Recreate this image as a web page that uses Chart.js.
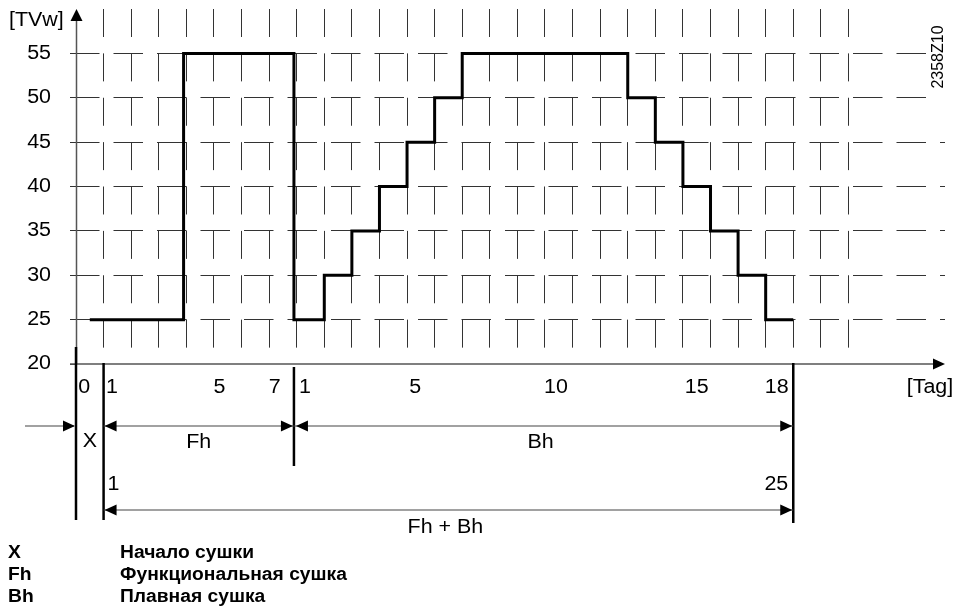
<!DOCTYPE html>
<html>
<head>
<meta charset="utf-8">
<title>Aufheizprogramm</title>
<style>
  html, body { margin: 0; padding: 0; background: #fff; }
  canvas { display: block; }
</style>
</head>
<body>
<canvas id="dryingChart" width="959" height="612"></canvas>
<script src="https://cdn.jsdelivr.net/npm/chart.js@4/dist/chart.umd.min.js"></script>
<script>
// Heating profile: day (counted from start of X) where each temperature level begins
const stepDays  = [0.5, 3.9, 7.9, 9, 10, 11, 12, 13, 14, 20, 21, 22, 23, 24, 25, 26];
const stepTemps = [25, 55, 25, 30, 35, 40, 45, 50, 55, 50, 45, 40, 35, 30, 25, 25];

// Temperature axis
const yTicks = [20, 25, 30, 35, 40, 45, 50, 55];

// Day labels under the time axis (Fh days 1..7, then Bh days 1..18)
const dayLabels   = ['0', '1', '5', '7', '1', '5', '10', '15', '18'];
const dayLabelPos = [0.3, 1.3, 5.2, 7.2, 8.3, 12.3, 17.4, 22.5, 25.4];

// Phase boundaries: start X, start Fh, start Bh, end
const phaseEdges = [0, 1, 7.9, 26];

// Legend
const legendCodes = ['X', 'Fh', 'Bh'];
const legendNames = ['Начало сушки', 'Функциональная сушка', 'Плавная сушка'];

const FONT = '"Liberation Sans", Arial, sans-serif';
const STRETCH = 1.1;

function drawText(c, str, x, y, align, font) {
  c.save();
  c.translate(x, y);
  c.scale(STRETCH, 1);
  c.font = font;
  c.fillStyle = '#000';
  c.textAlign = align;
  c.textBaseline = 'middle';
  c.fillText(str, 0, 0);
  c.restore();
}

function line(c, x1, y1, x2, y2, width, color) {
  c.save();
  c.lineWidth = width;
  c.strokeStyle = color;
  c.beginPath();
  c.moveTo(x1, y1);
  c.lineTo(x2, y2);
  c.stroke();
  c.restore();
}

// filled arrow head, dir 1 = pointing right, -1 = left, 'up' = pointing up
function arrowHead(c, x, y, dir) {
  c.save();
  c.fillStyle = '#000';
  c.beginPath();
  if (dir === 'up') {
    c.moveTo(x, y);
    c.lineTo(x - 6, y + 12);
    c.lineTo(x + 6, y + 12);
  } else {
    c.moveTo(x, y);
    c.lineTo(x - dir * 12, y - 5.5);
    c.lineTo(x - dir * 12, y + 5.5);
  }
  c.closePath();
  c.fill();
  c.restore();
}

// axes, dimension lines and all the texts around the plot
const decorations = {
  id: 'decorations',
  afterDraw(chart) {
    const c = chart.ctx;
    const xs = chart.scales.x;
    const ys = chart.scales.y;
    const area = chart.chartArea;
    const px = v => xs.getPixelForValue(v);
    const py = v => ys.getPixelForValue(v);
    const regular = '19.5px ' + FONT;
    const bold = 'bold 17.5px ' + FONT;

    // axes
    const x0 = px(0);
    line(c, x0 + 0.5, area.bottom, x0 + 0.5, area.top + 10, 1.5, '#555');
    arrowHead(c, x0 + 0.5, area.top, 'up');
    line(c, x0 - 6, py(20), area.right - 10, py(20), 1.5, '#555');
    arrowHead(c, area.right, py(20), 1);

    // phase boundary lines
    const spans = [[347, 520], [363, 520], [367, 466], [363, 523]];
    phaseEdges.forEach((d, i) => {
      line(c, px(d), spans[i][0], px(d), spans[i][1], 2.5, '#000');
    });

    // dimension arrows
    const e = phaseEdges.map(px);
    const r1 = 426, r2 = 510;
    line(c, 25, r1, e[0] - 2, r1, 1.2, '#444');
    arrowHead(c, e[0] - 1, r1, 1);
    line(c, e[1], r1, e[2], r1, 1.2, '#444');
    arrowHead(c, e[1] + 1, r1, -1);
    arrowHead(c, e[2] - 1, r1, 1);
    line(c, e[2], r1, e[3], r1, 1.2, '#444');
    arrowHead(c, e[2] + 2, r1, -1);
    arrowHead(c, e[3] - 1, r1, 1);
    line(c, e[1], r2, e[3], r2, 1.2, '#444');
    arrowHead(c, e[1] + 1, r2, -1);
    arrowHead(c, e[3] - 1, r2, 1);

    // axis texts
    drawText(c, '[TVw]', 9, 21, 'left', regular);
    yTicks.forEach(v => drawText(c, String(v), 51, py(v), 'right', regular));
    dayLabels.forEach((s, i) => drawText(c, s, px(dayLabelPos[i]), 388, 'center', regular));
    drawText(c, '[Tag]', 930, 388, 'center', regular);

    // phase names
    drawText(c, 'X', (e[0] + e[1]) / 2, 442, 'center', regular);
    drawText(c, 'Fh', (e[1] + e[2]) / 2, 443, 'center', regular);
    drawText(c, 'Bh', (e[2] + e[3]) / 2 - 3, 443, 'center', regular);
    drawText(c, '1', e[1] + 4, 485, 'left', regular);
    drawText(c, '25', e[3] - 5, 485, 'right', regular);
    drawText(c, 'Fh + Bh', (e[1] + e[3]) / 2 - 3, 528, 'center', regular);

    // drawing number, rotated
    c.save();
    c.fillStyle = '#fff';
    c.fillRect(928, 18, 20, 80);
    c.translate(939, 57);
    c.rotate(-Math.PI / 2);
    c.font = '16px ' + FONT;
    c.fillStyle = '#000';
    c.textAlign = 'center';
    c.textBaseline = 'middle';
    c.fillText('2358Z10', 0, 0);
    c.restore();

    // legend
    legendCodes.forEach((code, i) => {
      const y = 553 + i * 22;
      drawText(c, code, 8, y, 'left', bold);
      drawText(c, legendNames[i], 120, y, 'left', bold);
    });
  }
};

const ctx = document.getElementById('dryingChart');

const dryingChart = new Chart(ctx, {
  type: 'line',
  data: {
    datasets: [
      {
        label: 'TVw',
        data: stepDays.map((d, i) => ({ x: d, y: stepTemps[i] })),
        stepped: true,
        borderColor: '#000',
        borderWidth: 3,
        borderJoinStyle: 'miter',
        pointRadius: 0,
        fill: false,
      },
    ],
  },
  options: {
    responsive: false,
    animation: false,
    devicePixelRatio: 1,
    layout: { padding: { top: 9, right: 14, left: 0, bottom: 0 } },
    plugins: {
      legend: { display: false },
      tooltip: { enabled: false },
    },
    scales: {
      x: {
        type: 'linear',
        min: 0,
        max: 31.5,
        ticks: { display: false, stepSize: 1 },
        grid: {
          drawTicks: false,
          lineWidth: 1,
          color: c => (c.tick && c.tick.value >= 1 && c.tick.value <= 28 && Number.isInteger(c.tick.value)) ? '#333' : 'rgba(0,0,0,0)',
        },
        border: { display: false, dash: [28, 16.375], dashOffset: 0 },
        afterFit: scale => { scale.height = 248; },
      },
      y: {
        min: 20,
        max: 60,
        ticks: { display: false, stepSize: 5 },
        grid: {
          drawTicks: true,
          tickLength: 6,
          lineWidth: 1,
          color: c => (c.tick && c.tick.value > 20 && c.tick.value < 60) ? '#333' : 'rgba(0,0,0,0)',
          tickColor: c => (c.tick && c.tick.value < 60) ? '#333' : 'rgba(0,0,0,0)',
        },
        border: { display: false, dash: [29.5, 14], dashOffset: 6 },
        afterFit: scale => { scale.width = 76; },
      },
    },
  },
  plugins: [decorations],
});
</script>
</body>
</html>
